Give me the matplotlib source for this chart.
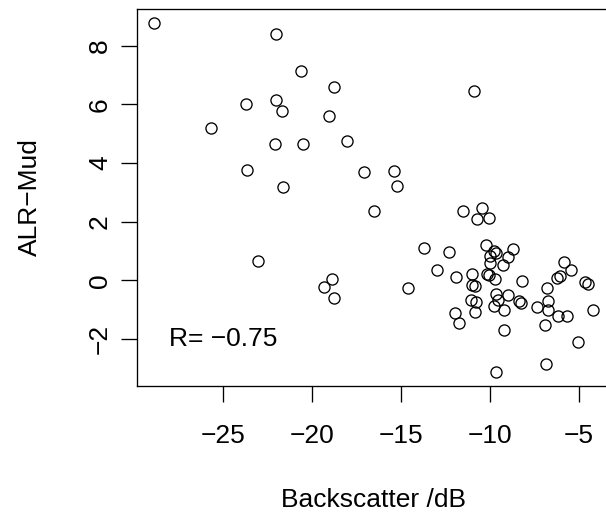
import matplotlib
matplotlib.use("Agg")
import matplotlib.pyplot as plt

plt.rcParams['font.family'] = ['Liberation Sans', 'DejaVu Sans']

# backscatter (dB) vs ALR-Mud
backscatter = [
    -28.86, -22.01, -20.64, -18.77, -23.73, -22.01, -21.67, -19.02, -25.70, -18.00,
    -22.05, -20.49, -23.64, -17.05, -21.65, -23.04, -18.88, -19.33, -18.74,
    -15.23, -16.51, -11.49, -10.41, -10.71, -10.05, -13.72, -12.30, -10.20, -9.77,
    -9.66, -9.98, -8.72, -8.95, -9.28, -9.96, -12.95, -11.87, -11.02, -10.18,
    -10.05, -9.68, -8.18, -14.62, -11.02, -10.84, -5.84, -5.45, -6.20, -6.07,
    -6.76, -4.66, -4.46, -11.08, -10.78, -9.62, -8.99, -8.37, -8.22, -9.51,
    -9.77, -9.17, -10.82, -11.96, -11.72, -9.17, -7.36, -6.74, -6.74, -6.91,
    -6.14, -5.63, -4.20, -5.02, -6.84, -9.66, -15.40, -10.90,
]
alr_mud = [
    8.78, 8.39, 7.13, 6.60, 6.00, 6.15, 5.78, 5.59, 5.18, 4.76,
    4.66, 4.64, 3.77, 3.70, 3.19, 0.67, 0.05, -0.22, -0.60,
    3.20, 2.38, 2.38, 2.47, 2.09, 2.13, 1.10, 0.97, 1.21, 1.01,
    0.95, 0.84, 1.07, 0.78, 0.53, 0.59, 0.36, 0.12, 0.23, 0.23,
    0.18, 0.06, -0.01, -0.26, -0.16, -0.20, 0.64, 0.37, 0.07, 0.14,
    -0.27, -0.07, -0.14, -0.68, -0.74, -0.45, -0.49, -0.72, -0.77, -0.68,
    -0.88, -1.00, -1.08, -1.11, -1.45, -1.70, -0.91, -0.70, -1.02, -1.52,
    -1.20, -1.20, -1.02, -2.11, -2.84, -3.12, 3.73, 6.45,
]
x_ticks = [-25, -20, -15, -10, -5]
y_ticks = [-2, 0, 2, 4, 6, 8]
r_label = "R= \u22120.75"

W, H = 606, 514
fig = plt.figure(figsize=(W / 100, H / 100), dpi=100)
ax = fig.add_axes([136.7 / W, 1 - 385.7 / H, (610.5 - 136.7) / W, (385.7 - 9) / H])

ax.plot(backscatter, alr_mud, linestyle='none', marker='o', markersize=8,
        markerfacecolor='none', markeredgecolor='black', markeredgewidth=0.95)

ax.set_xlim(-29.85, -3.21)
ax.set_ylim(-3.59, 9.25)
ax.set_xticks(x_ticks)
ax.set_yticks(y_ticks)
ax.set_xticklabels([str(v).replace('-', '\u2212') for v in x_ticks])
ax.set_yticklabels([str(v).replace('-', '\u2212') for v in y_ticks])

for s in ax.spines.values():
    s.set_linewidth(0.95)
ax.tick_params(direction='out', length=11.5, width=0.95, labelsize=19)
ax.tick_params(axis='x', pad=30)
ax.tick_params(axis='y', pad=9.9)
for lab in ax.get_xticklabels():
    lab.set_va('baseline')
for lab in ax.get_yticklabels():
    lab.set_rotation(90)
    lab.set_rotation_mode('anchor')
    lab.set_ha('center')
    lab.set_va('baseline')

ax.text(-25, -2, r_label, ha='center', va='center', fontsize=19)

cx = (136.7 + 610.5) / 2 / W
fig.text(cx, 1 - 507 / H, "Backscatter /dB", ha='center', va='baseline', fontsize=19)
fig.text(37 / W, 1 - 197.3 / H, "ALR\u2212Mud", rotation=90, rotation_mode='anchor',
         ha='center', va='baseline', fontsize=19)

fig.savefig("out.png", dpi=100)
